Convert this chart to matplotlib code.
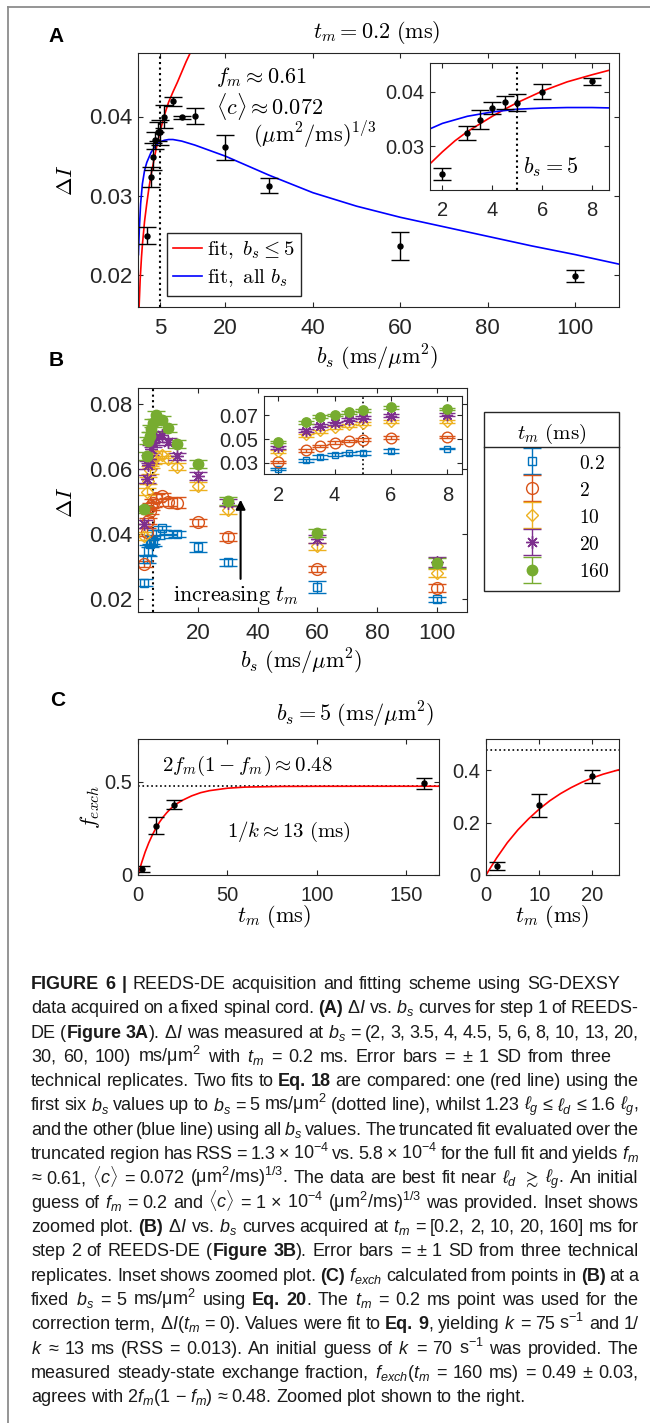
import matplotlib
matplotlib.use('Agg')
import matplotlib.pyplot as plt
from matplotlib import font_manager as fm
from matplotlib.lines import Line2D
from matplotlib.container import ErrorbarContainer
from matplotlib.legend_handler import HandlerErrorbar

W, H, DPI = 650, 1423, 100

# ---------------- data ----------------
bs = [2, 3, 3.5, 4, 4.5, 5, 6, 8, 10, 13, 20, 30, 60, 100]

dI_02 = [0.0250, 0.0324, 0.0349, 0.0370, 0.0381, 0.0380, 0.0400, 0.0419, 0.0399, 0.0401, 0.0361, 0.0313, 0.0237, 0.0199]
err_02 = [0.0011, 0.0013, 0.0017, 0.0011, 0.0012, 0.0016, 0.0014, 0.0006, 0.0002, 0.0010, 0.0016, 0.0010, 0.0018, 0.0008]

dI_2 = [0.0308, 0.0406, 0.0440, 0.0471, 0.0485, 0.0496, 0.0512, 0.0518, 0.0498, 0.0497, 0.0436, 0.0391, 0.0292, 0.0234]
err_2 = [0.0010, 0.0012, 0.0010, 0.0010, 0.0010, 0.0012, 0.0012, 0.0010, 0.0012, 0.0018, 0.0010, 0.0012, 0.0010, 0.0012]

dI_10 = [0.0395, 0.0531, 0.0565, 0.0597, 0.0616, 0.0628, 0.0644, 0.0645, 0.0630, 0.0608, 0.0549, 0.0475, 0.0362, 0.0281]
err_10 = [0.0012, 0.0012, 0.0012, 0.0012, 0.0012, 0.0012, 0.0012, 0.0012, 0.0012, 0.0012, 0.0012, 0.0012, 0.0012, 0.0012]

dI_20 = [0.0430, 0.0569, 0.0612, 0.0632, 0.0662, 0.0680, 0.0695, 0.0705, 0.0685, 0.0639, 0.0579, 0.0497, 0.0385, 0.0313]
err_20 = [0.0012, 0.0012, 0.0012, 0.0012, 0.0012, 0.0012, 0.0012, 0.0012, 0.0012, 0.0012, 0.0012, 0.0012, 0.0012, 0.0015]

dI_160 = [0.0476, 0.0640, 0.0688, 0.0702, 0.0725, 0.0743, 0.0768, 0.0752, 0.0727, 0.0678, 0.0615, 0.0502, 0.0403, 0.0311]
err_160 = [0.0012, 0.0012, 0.0012, 0.0012, 0.0012, 0.0012, 0.0012, 0.0012, 0.0012, 0.0012, 0.0012, 0.0012, 0.0012, 0.0015]

tm_labels = ['0.2', '2', '10', '20', '160']

# fit curves
red_b = [0.25, 0.5, 0.8, 1.0, 1.5, 2, 2.5, 3, 3.5, 4, 4.5, 5, 6, 7, 8, 9, 10, 11, 12.2]
red_v = [0.0160, 0.0195, 0.0223, 0.0238, 0.0268, 0.0290, 0.0310, 0.0327, 0.0341, 0.0355, 0.0368, 0.0380,
         0.0401, 0.0418, 0.0431, 0.0443, 0.0456, 0.0469, 0.0483]
blue_b = [0.1, 0.3, 0.6, 1.0, 1.5, 2, 3, 4, 5, 6, 7, 8, 10, 13, 16, 20, 25, 30, 40, 50, 60, 70, 80, 90, 100, 110]
blue_v = [0.0226, 0.0258, 0.0290, 0.0315, 0.0332, 0.0342, 0.0355, 0.0363, 0.0368, 0.0370, 0.0371, 0.0371,
          0.0369, 0.0364, 0.0358, 0.0350, 0.0338, 0.0326, 0.0304, 0.0287, 0.0273, 0.0261, 0.0249, 0.0237,
          0.0226, 0.0214]

tm = [2, 10, 20, 160]
fexch = [0.034, 0.265, 0.376, 0.491]
fexch_err = [0.016, 0.045, 0.025, 0.028]
fit_t = [0, 2, 4, 6, 8, 10, 12, 14, 16, 18, 20, 22, 25, 30, 35, 40, 50, 60, 80, 100, 130, 170]
fit_f = [0.0, 0.065, 0.123, 0.172, 0.214, 0.251, 0.283, 0.310, 0.333, 0.353, 0.370, 0.384, 0.401, 0.424,
         0.441, 0.452, 0.465, 0.471, 0.4745, 0.4752, 0.4755, 0.4755]
steady = 0.4758

caption_lines = [
    "*FIGURE 6 |* REEDS-DE acquisition and fitting scheme using SG-DEXSY",
    "data acquired on a fixed spinal cord. *(A)* \u0394$I$ vs. $b_s$ curves for step 1 of REEDS-",
    "DE (*Figure 3A*). \u0394$I$ was measured at $b_s$ = (2, 3, 3.5, 4, 4.5, 5, 6, 8, 10, 13, 20,",
    "30, 60, 100) ms/\u03bcm$^2$ with $t_m$ = 0.2 ms. Error bars = \u00b1 1 SD from three",
    "technical replicates. Two fits to *Eq. 18* are compared: one (red line) using the",
    "first six $b_s$ values up to $b_s$ = 5 ms/\u03bcm$^2$ (dotted line), whilst 1.23 $\\ell_g$ \u2264 $\\ell_d$ \u2264 1.6 $\\ell_g$,",
    "and the other (blue line) using all $b_s$ values. The truncated fit evaluated over the",
    "truncated region has RSS = 1.3 \u00d7 10$^{-4}$ vs. 5.8 \u00d7 10$^{-4}$ for the full fit and yields $f_m$",
    "\u2248 0.61, $\\langle{}c\\rangle$ = 0.072 (\u03bcm$^2$/ms)$^{1/3}$. The data are best fit near $\\ell_d$ $\\gtrsim$ $\\ell_g$. An initial",
    "guess of $f_m$ = 0.2 and $\\langle{}c\\rangle$ = 1 \u00d7 10$^{-4}$ (\u03bcm$^2$/ms)$^{1/3}$ was provided. Inset shows",
    "zoomed plot. *(B)* \u0394$I$ vs. $b_s$ curves acquired at $t_m$ = [0.2, 2, 10, 20, 160] ms for",
    "step 2 of REEDS-DE (*Figure 3B*). Error bars = \u00b1 1 SD from three technical",
    "replicates. Inset shows zoomed plot. *(C)* $f_{exch}$ calculated from points in *(B)* at a",
    "fixed $b_s$ = 5 ms/\u03bcm$^2$ using *Eq. 20*. The $t_m$ = 0.2 ms point was used for the",
    "correction term, \u0394$I$($t_m$ = 0). Values were fit to *Eq. 9*, yielding $k$ = 75 s$^{-1}$ and 1/",
    "$k$ \u2248 13 ms (RSS = 0.013). An initial guess of $k$ = 70 s$^{-1}$ was provided. The",
    "measured steady-state exchange fraction, $f_{exch}$($t_m$ = 160 ms) = 0.49 \u00b1 0.03,",
    "agrees with 2$f_m$(1 \u2212 $f_m$) \u2248 0.48. Zoomed plot shown to the right.",
]
caption_right = [620, 638.5, 638.5, 611.5, 638.5, 638.5, 638.5, 638.5, 638.5, 638.5, 638.5, 638.5,
                 638.5, 638.5, 638.5, 638.5, 638.5, None]

# ---------------- style ----------------
names = {f.name for f in fm.fontManager.ttflist}
CAP = 'Liberation Sans Narrow' if 'Liberation Sans Narrow' in names else 'Liberation Sans'
plt.rcParams.update({
    'font.family': ['Liberation Sans', 'DejaVu Sans'],
    'mathtext.fontset': 'cm',
    'mathtext.rm': CAP,
    'mathtext.it': CAP + ':italic',
    'mathtext.bf': CAP + ':bold',
    'mathtext.sf': CAP,
    'axes.linewidth': 0.8,
    'axes.edgecolor': '#262626',
    'xtick.direction': 'in', 'ytick.direction': 'in',
    'xtick.top': True, 'ytick.right': True,
    'xtick.major.size': 3.5, 'ytick.major.size': 3.5,
    'xtick.major.width': 0.8, 'ytick.major.width': 0.8,
    'xtick.color': '#262626', 'ytick.color': '#262626',
    'xtick.major.pad': 8, 'ytick.major.pad': 4,
})

C_BLUE, C_ORANGE, C_YELLOW, C_PURPLE, C_GREEN = '#0072BD', '#D95319', '#EDB120', '#7E2F8E', '#77AC30'

fig = plt.figure(figsize=(W / DPI, H / DPI), dpi=DPI)
fig.patch.set_facecolor('white')


def fx(x):
    return x / W


def fy(y):
    return 1 - y / H


def add_ax(l, t, r, b):
    return fig.add_axes([l / W, 1 - b / H, (r - l) / W, (b - t) / H])


def mtext(x, y, s, size=16, **kw):
    kw.setdefault('ha', 'center')
    kw.setdefault('va', 'center')
    return fig.text(fx(x), fy(y), s, fontsize=size, **kw)


# ---------------- Panel A ----------------
axA = add_ax(138, 53, 619, 307)
lr, = axA.plot(red_b, red_v, color='#FF0000', lw=1.2)
lb, = axA.plot(blue_b, blue_v, color='#0000FF', lw=1.2)
axA.axvline(5, color='k', ls=':', lw=1.5)
axA.errorbar(bs, dI_02, yerr=err_02, fmt='o', ms=3.6, color='k', ecolor='k', elinewidth=1.0,
             capsize=6.5, capthick=1.0)
axA.set_xlim(0, 110)
axA.set_ylim(0.016, 0.048)
axA.set_xticks([5, 20, 40, 60, 80, 100])
axA.set_yticks([0.02, 0.03, 0.04])
axA.set_yticklabels(['0.02', '0.03', '0.04'])
axA.tick_params(labelsize=16)
axA.text(17.8, 0.0450, r'$f_m \approx 0.61$', fontsize=16, va='center')
axA.text(17.8, 0.0412, r'$\langle c\rangle \approx 0.072$', fontsize=16, va='center')
axA.text(26.3, 0.0377, r'$(\mu\mathrm{m}^2/\mathrm{ms})^{1/3}$', fontsize=16, va='center')
legA = axA.legend([lr, lb], [r'$\mathrm{fit,}\ b_s \leq 5$', r'$\mathrm{fit,\ all}\ b_s$'],
                  loc='upper left', bbox_to_anchor=(fx(167), fy(233)), bbox_transform=fig.transFigure,
                  borderaxespad=0, fontsize=15, fancybox=False, framealpha=1, edgecolor='#262626',
                  handlelength=1.4, handletextpad=0.2, borderpad=0.3, labelspacing=0.3)
legA.get_frame().set_linewidth(1.0)

axAi = add_ax(430, 63.3, 609.5, 190)
axAi.plot(red_b, red_v, color='#FF0000', lw=1.2)
axAi.plot(blue_b, blue_v, color='#0000FF', lw=1.2)
axAi.axvline(5, color='k', ls=':', lw=1.5)
axAi.errorbar(bs, dI_02, yerr=err_02, fmt='o', ms=3.6, color='k', ecolor='k', elinewidth=1.0,
              capsize=6.5, capthick=1.0)
axAi.set_xlim(1.5, 8.7)
axAi.set_ylim(0.022, 0.0452)
axAi.set_xticks([2, 4, 6, 8])
axAi.set_yticks([0.03, 0.04])
axAi.set_yticklabels(['0.03', '0.04'])
axAi.tick_params(labelsize=14.5)
axAi.text(5.25, 0.0262, r'$b_s = 5$', fontsize=16, va='center')

mtext(56, 36, 'A', size=15, weight='bold')
mtext(377, 33, r'$t_m = 0.2\ (\mathrm{ms})$')
mtext(66, 180, r'$\Delta I$', rotation=90)
mtext(377, 358, r'$b_s\ (\mathrm{ms}/\mu\mathrm{m}^2)$')

# ---------------- Panel B ----------------
series = [
    (dI_02, err_02, 's', C_BLUE, 'none', 5.5),
    (dI_2, err_2, 'o', C_ORANGE, 'none', 8.5),
    (dI_10, err_10, 'D', C_YELLOW, 'none', 6.0),
    (dI_20, err_20, (8, 2, 0), C_PURPLE, C_PURPLE, 9.0),
    (dI_160, err_160, 'o', C_GREEN, C_GREEN, 7.5),
]

axB = add_ax(138, 388, 467, 612)
axBi = add_ax(264, 396.3, 461.5, 474.5)
containers = []
for vals, errs, mk, col, mfc, ms in series:
    c = axB.errorbar(bs, vals, yerr=errs, fmt='', marker=mk, ls='none', color=col, mfc=mfc, mec=col,
                     ms=ms, mew=1.0, elinewidth=1.0, capsize=6.4, capthick=1.0)
    containers.append(c)
    axBi.errorbar(bs, vals, yerr=errs, fmt='', marker=mk, ls='none', color=col, mfc=mfc, mec=col,
                  ms=ms * 0.9, mew=1.0, elinewidth=1.0, capsize=6.0, capthick=1.0)
axB.axvline(5, color='k', ls=':', lw=1.5, zorder=0.5)
axBi.axvline(5, color='k', ls=':', lw=1.2, zorder=0.5)
axB.set_xlim(0, 110)
axB.set_ylim(0.016, 0.085)
axB.set_xticks([20, 40, 60, 80, 100])
axB.set_yticks([0.02, 0.04, 0.06, 0.08])
axB.set_yticklabels(['0.02', '0.04', '0.06', '0.08'])
axB.tick_params(labelsize=16)
axB.annotate('', xy=(34.3, 0.0506), xytext=(34.3, 0.0262),
             arrowprops=dict(arrowstyle='-|>', color='k', lw=1.5, mutation_scale=14, shrinkA=0, shrinkB=0))
axB.text(11.7, 0.0210, r'$\mathrm{increasing}\ t_m$', fontsize=16, va='center', ha='left')

axBi.set_xlim(1.5, 8.5)
axBi.set_ylim(0.0203, 0.0859)
axBi.set_xticks([2, 4, 6, 8])
axBi.set_yticks([0.03, 0.05, 0.07])
axBi.set_yticklabels(['0.03', '0.05', '0.07'])
axBi.tick_params(labelsize=14.5)

legB = axB.legend(containers, ['$%s$' % s for s in tm_labels], loc='upper left',
                  bbox_to_anchor=(fx(484), fy(411.7)), bbox_transform=fig.transFigure, borderaxespad=0,
                  fontsize=14, title=r'$t_m\ (\mathrm{ms})$', title_fontsize=15, numpoints=1,
                  fancybox=False, framealpha=1, edgecolor='#262626',
                  handlelength=3.9, handletextpad=0.5, borderpad=0.5, labelspacing=0.4, handleheight=1.0,
                  handler_map={ErrorbarContainer: HandlerErrorbar(xerr_size=0.5, yerr_size=0.67)})
legB.get_frame().set_linewidth(1.0)

mtext(56, 360, 'B', size=15, weight='bold')
mtext(66, 502, r'$\Delta I$', rotation=90)
mtext(301, 662, r'$b_s\ (\mathrm{ms}/\mu\mathrm{m}^2)$')

# ---------------- Panel C ----------------
axC = add_ax(138, 739.3, 438.6, 875)
axCr = add_ax(486, 739.3, 619, 875)
for ax in (axC, axCr):
    ax.axhline(steady, color='k', ls=':', lw=1.2)
    ax.plot(fit_t, fit_f, color='#FF0000', lw=1.2)
    ax.errorbar(tm, fexch, yerr=fexch_err, fmt='o', ms=3.6, color='k', ecolor='k', elinewidth=1.0,
                capsize=6.0, capthick=1.0)
    ax.tick_params(labelsize=14.5)
axC.set_xlim(0, 168)
axC.set_ylim(0, 0.727)
axC.set_xticks([0, 50, 100, 150])
axC.set_yticks([0, 0.5])
axC.set_yticklabels(['0', '0.5'])
axC.text(13.3, 0.584, r'$2f_m(1-f_m) \approx 0.48$', fontsize=15, va='center')
axC.text(49.8, 0.232, r'$1/k \approx 13\ (\mathrm{ms})$', fontsize=15, va='center')
axCr.set_xlim(0, 25)
axCr.set_ylim(0, 0.517)
axCr.set_xticks([0, 10, 20])
axCr.set_yticks([0, 0.2, 0.4])
axCr.set_yticklabels(['0', '0.2', '0.4'])

mtext(58, 700, 'C', size=15, weight='bold')
mtext(355, 715, r'$b_s = 5\ (\mathrm{ms}/\mu\mathrm{m}^2)$')
mtext(90, 807, r'$f_{exch}$', rotation=90)
mtext(274, 917, r'$t_m\ (\mathrm{ms})$')
mtext(552, 917, r'$t_m\ (\mathrm{ms})$')

# ---------------- frame ----------------
fig.add_artist(Line2D([fx(8), fx(8)], [0, fy(7)], transform=fig.transFigure, color='#8c8c8c', lw=1.3))
fig.add_artist(Line2D([fx(8), 1], [fy(7), fy(7)], transform=fig.transFigure, color='#8c8c8c', lw=1.3))

# ---------------- caption ----------------
renderer = fig.canvas.get_renderer()
CAP_FS = 13
LEFT = 31
for i, line in enumerate(caption_lines):
    ybase = fy(983 + 24.3 * i + 6)
    words = [w for w in line.split(' ') if w]
    bold = False
    word_items = []
    for w in words:
        segs = w.split('*')
        items = []
        for j, s in enumerate(segs):
            if j > 0:
                bold = not bold
            if s:
                t = fig.text(0, ybase, s, fontsize=CAP_FS, family=[CAP, 'DejaVu Sans'],
                             weight='bold' if bold else 'normal', math_fontfamily='custom',
                             ha='left', va='baseline', color='#1a1a1a')
                items.append((t, t.get_window_extent(renderer).width))
        word_items.append(items)
    widths = [sum(wd for _, wd in it) for it in word_items]
    right = caption_right[i]
    space = 0.25 * CAP_FS * DPI / 72
    if right is not None and len(widths) > 1:
        gap = (right - LEFT - sum(widths)) / (len(widths) - 1)
    else:
        gap = space
    x = LEFT
    for it in word_items:
        for t, wd in it:
            t.set_x(fx(x))
            x += wd
        x += gap

# separator line under legend B title
fig.canvas.draw()
bb = legB.get_window_extent(renderer)
ysep = bb.y1 - 35.6
inv = fig.transFigure.inverted()
(x0f, yf), (x1f, _) = inv.transform([(bb.x0, ysep), (bb.x1, ysep)])
fig.add_artist(Line2D([x0f, x1f], [yf, yf], transform=fig.transFigure, color='#262626', lw=1.0))

fig.savefig('out.png', dpi=DPI, facecolor='white')
